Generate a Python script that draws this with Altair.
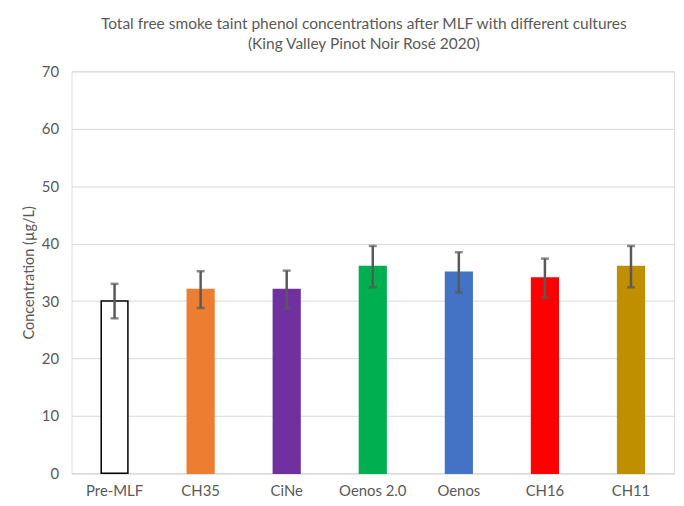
import altair as alt
import pandas as pd

cultures = ["Pre-MLF", "CH35", "CiNe", "Oenos 2.0", "Oenos", "CH16", "CH11"]
means = [30.0, 32.0, 32.0, 36.0, 35.0, 34.0, 36.0]
errors = [3.0, 3.2, 3.3, 3.6, 3.5, 3.4, 3.6]
fills = ["#FFFFFF", "#ED7D31", "#7030A0", "#00B050", "#4472C4", "#FF0000", "#BF8F00"]
strokes = ["#000000", "#ED7D31", "#7030A0", "#00B050", "#4472C4", "#FF0000", "#BF8F00"]

df = pd.DataFrame({
    "culture": cultures,
    "mean": means,
    "lo": [m - e for m, e in zip(means, errors)],
    "hi": [m + e for m, e in zip(means, errors)],
})

FONT = "Lato"
TXT = "#595959"

x = alt.X("culture:N", sort=cultures, title=None,
          scale=alt.Scale(paddingInner=0.69, paddingOuter=0.345),
          axis=alt.Axis(labelAngle=0, labelFont=FONT, labelFontSize=15, labelColor=TXT,
                        labelPadding=10, ticks=False, domainColor="#D9D9D9", domainWidth=1))

bars = alt.Chart(df).mark_bar(strokeWidth=1.5).encode(
    x=x,
    y=alt.Y("mean:Q", title="Concentration (µg/L)",
            scale=alt.Scale(domain=[0, 70], nice=False),
            axis=alt.Axis(values=[0, 10, 20, 30, 40, 50, 60, 70], labelFont=FONT,
                          labelFontSize=15, labelColor=TXT, labelPadding=13, ticks=False,
                          domain=False, gridColor="#D9D9D9", gridWidth=1,
                          titleFont=FONT, titleFontSize=14.6, titleColor=TXT,
                          titleFontWeight="normal", titlePadding=5)),
    fill=alt.Fill("culture:N", sort=cultures,
                  scale=alt.Scale(domain=cultures, range=fills), legend=None),
    stroke=alt.Stroke("culture:N", sort=cultures,
                      scale=alt.Scale(domain=cultures, range=strokes), legend=None),
)

rules = alt.Chart(df).mark_rule(color="#595959", strokeWidth=2.5).encode(
    x=alt.X("culture:N", sort=cultures), y="lo:Q", y2="hi:Q")
caps_hi = alt.Chart(df).mark_tick(color="#595959", thickness=2.5, size=8, orient="horizontal").encode(
    x=alt.X("culture:N", sort=cultures), y="hi:Q")
caps_lo = alt.Chart(df).mark_tick(color="#595959", thickness=2.5, size=8, orient="horizontal").encode(
    x=alt.X("culture:N", sort=cultures), y="lo:Q")

chart = alt.layer(bars, rules, caps_hi, caps_lo).properties(
    width=607, height=405,
    autosize=alt.AutoSizeParams(type="none"),
    padding={"left": 64, "top": 62, "right": 2, "bottom": 24},
    title=alt.TitleParams(
        ["Total free smoke taint phenol concentrations after MLF with different cultures",
         "(King Valley Pinot Noir Rosé 2020)"],
        font=FONT, fontSize=15.6, fontWeight="normal", color=TXT, anchor="middle",
        dx=-9, offset=12, lineHeight=20),
).configure_view(stroke=None).configure(background="white")

chart.save("out.html", embed_options={"renderer": "svg", "actions": False})
